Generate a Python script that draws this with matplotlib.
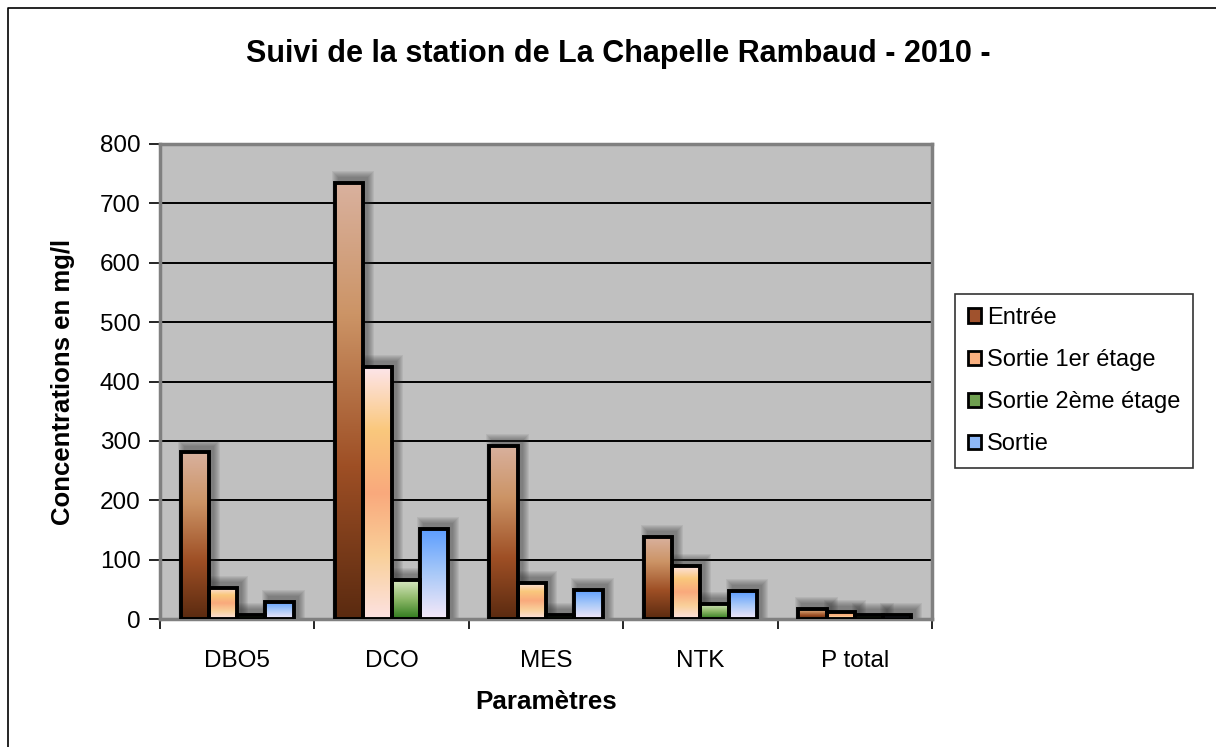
import numpy as np
import matplotlib
matplotlib.use("Agg")
import matplotlib.pyplot as plt
from matplotlib.colors import LinearSegmentedColormap
from matplotlib.patches import Rectangle, Patch
from matplotlib.lines import Line2D

plt.rcParams['font.family'] = ['Liberation Sans', 'DejaVu Sans']

categories = ["DBO5", "DCO", "MES", "NTK", "P total"]
series_names = ["Entrée", "Sortie 1er étage", "Sortie 2ème étage", "Sortie"]
entree = [281, 734, 292, 138, 17]
sortie1 = [53, 424, 61, 90, 12]
sortie2 = [7, 66, 7, 26, 6]
sortie = [29, 152, 49, 47, 7]
series_values = [entree, sortie1, sortie2, sortie]

gradients = [
    [(0.0, "#5A2A10"), (0.35, "#9E4F25"), (0.7, "#CC9466"), (1.0, "#D9B19E")],
    [(0.0, "#FDE2E2"), (0.25, "#F9D09A"), (0.5, "#F9A97C"), (0.75, "#FAC87C"), (1.0, "#FDE5EA")],
    [(0.0, "#2E7A1C"), (0.5, "#8DB868"), (1.0, "#DDEBC8")],
    [(0.0, "#F6E9F8"), (0.5, "#A9C9F8"), (1.0, "#5A9CFF")],
]
legend_colors = ["#A0522D", "#F9B080", "#6FA050", "#8DB8F8"]

fig = plt.figure(figsize=(12.16, 7.47), dpi=100)
fig.patch.set_facecolor("white")
# outer frame (top and left edges visible)
fig.lines.append(Line2D([8/1216, 8/1216, 1216/1216], [0, 1-8/747, 1-8/747],
                        transform=fig.transFigure, color="black", linewidth=1.2))

ax = fig.add_axes([160/1216, 1-619/747, 772/1216, 475/747])
ax.set_facecolor("#C0C0C0")
ax.set_xlim(-0.5, len(categories) - 0.5)
ax.set_ylim(0, 800)
ax.set_yticks(np.arange(0, 801, 100))
ax.yaxis.grid(True, color="black", linewidth=1.4)
ax.set_axisbelow(True)

x = np.arange(len(categories))
bw = 0.183
offsets = (np.arange(4) - 1.5) * bw
px_x = 5 / 772.0
px_y = 800 / 475.0

for s, vals in enumerate(series_values):
    cmap = LinearSegmentedColormap.from_list(f"g{s}", gradients[s])
    for i, v in enumerate(vals):
        x0 = x[i] + offsets[s] - bw / 2
        # blurred shadow
        for k in range(7, 0, -1):
            sh = Rectangle((x0 + 4*px_x - k*px_x, 0), bw + 2*k*px_x, v + 5*px_y + k*px_y,
                           facecolor="#303030", edgecolor="none", alpha=0.08, zorder=2)
            ax.add_patch(sh)
        rect = Rectangle((x0, 0), bw, v, facecolor="none", edgecolor="black",
                         linewidth=2.8, zorder=4)
        ax.add_patch(rect)
        grad = np.linspace(0, 1, 256).reshape(-1, 1)
        im = ax.imshow(grad, cmap=cmap, origin="lower", aspect="auto",
                       extent=(x0, x0 + bw, 0, v), zorder=3, interpolation="bilinear")
        clip = Rectangle((x0, 0), bw, v, transform=ax.transData)
        im.set_clip_path(clip)

ax.set_xlim(-0.5, len(categories) - 0.5)
ax.set_ylim(0, 800)

ax.set_xticks(np.arange(-0.5, len(categories)), minor=False)
ax.set_xticklabels([])
ax.set_xticks(x, minor=True)
ax.set_xticklabels(categories, minor=True, fontsize=17.5)
ax.tick_params(axis="x", which="major", length=7, width=1.2, color="black", direction="out")
ax.tick_params(axis="x", which="minor", length=0, pad=22)
ax.tick_params(axis="y", length=8, width=1.2, labelsize=17.5, direction="out", pad=6)

for side in ["top", "right", "left", "bottom"]:
    ax.spines[side].set_color("#808080")
    ax.spines[side].set_linewidth(2.5)

ax.set_xlabel("Paramètres", fontsize=18.7, fontweight="bold", labelpad=13)
ax.set_ylabel("Concentrations en mg/l", fontsize=18.5, fontweight="bold", labelpad=18)

fig.text(618/1216, 1-54/747, "Suivi de la station de La Chapelle Rambaud - 2010 -",
         ha="center", va="center", fontsize=22, fontweight="bold")

handles = [Patch(facecolor=c, edgecolor="black", linewidth=2) for c in legend_colors]
leg = fig.legend(handles, series_names, loc="center left",
                 bbox_to_anchor=(955/1216, 1-381/747), fontsize=17, frameon=True,
                 fancybox=False, edgecolor="black", handlelength=0.55, handleheight=0.55,
                 handletextpad=0.25, labelspacing=0.85, borderpad=0.55, borderaxespad=0)
leg.get_frame().set_linewidth(1.2)

fig.savefig("out.png", dpi=100)
